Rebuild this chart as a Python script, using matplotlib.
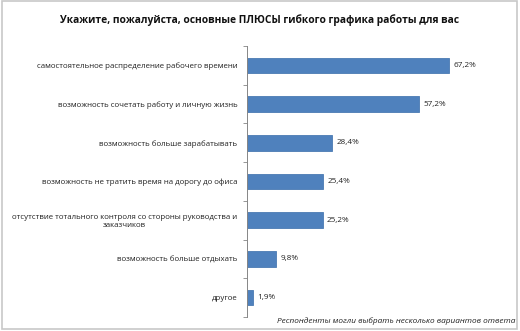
import matplotlib
matplotlib.use("Agg")
import matplotlib.pyplot as plt
import numpy as np
from matplotlib.patches import Rectangle

plt.rcParams['font.family'] = ['Open Sans', 'DejaVu Sans']

categories = [
    "самостоятельное распределение рабочего времени",
    "возможность сочетать работу и личную жизнь",
    "возможность больше зарабатывать",
    "возможность не тратить время на дорогу до офиса",
    "отсутствие тотального контроля со стороны руководства и\nзаказчиков",
    "возможность больше отдыхать",
    "другое",
]
values = [67.2, 57.2, 28.4, 25.4, 25.2, 9.8, 1.9]
value_labels = ["67,2%", "57,2%", "28,4%", "25,4%", "25,2%", "9,8%", "1,9%"]
title = "Укажите, пожалуйста, основные ПЛЮСЫ гибкого графика работы для вас"
footnote = "Респонденты могли выбрать несколько вариантов ответа"

fig = plt.figure(figsize=(5.2, 3.31), dpi=100)
fig.patch.set_facecolor('white')
ax = fig.add_axes([247/520, 1-317/331, 240/520, (317-46)/331])

n = len(categories)
y = np.arange(n)
ax.barh(y, values, height=0.4, color='#4f81bd', edgecolor='#4a7ab3', linewidth=0.6)
ax.set_ylim(n - 0.5, -0.5)
ax.set_xlim(0, 80)

for yi, v, lab in zip(y, values, value_labels):
    ax.text(v + 1.5, yi, lab, va='center', ha='left', fontsize=5.9, color='#222222')

ax.set_yticks(y)
ax.set_yticklabels(categories, fontsize=5.7, color='#222222')
for t in ax.get_yticklabels():
    t.set_multialignment('center')
ax.tick_params(axis='y', which='major', length=0, pad=7)
ax.set_yticks(np.arange(-0.5, n, 1), minor=True)
ax.tick_params(axis='y', which='minor', length=3, color='#868686', width=0.6)
ax.set_xticks([])
for s in ['top', 'right', 'bottom']:
    ax.spines[s].set_visible(False)
ax.spines['left'].set_color('#868686')
ax.spines['left'].set_linewidth(0.7)

fig.text(0.5, 1-20/331, title, ha='center', va='center', fontsize=7.4, fontweight='bold', color='#111111')
fig.text(515/520, 1-321/331, footnote, ha='right', va='center', fontsize=5.95, style='italic', color='#222222')

fig.patches.append(Rectangle((0.003, 0.006), 0.992, 0.99, transform=fig.transFigure,
                             fill=False, edgecolor='#c8c8c8', linewidth=1.2))

fig.savefig("out.png", dpi=100)
